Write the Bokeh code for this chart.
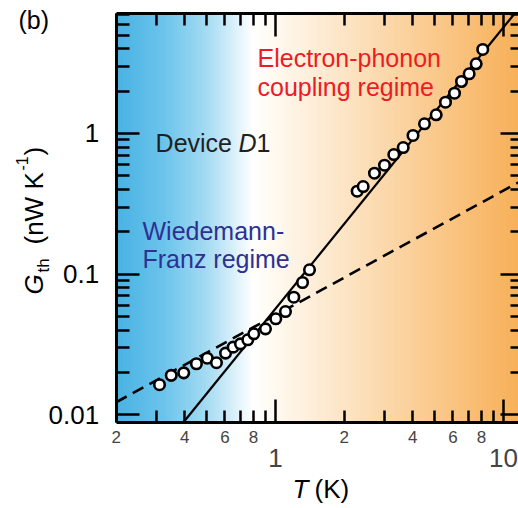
import numpy as np
from bokeh.plotting import figure
from bokeh.models import LogAxis, FixedTicker, Label, ColumnDataSource, Range1d
from bokeh.embed import file_html
from bokeh.resources import INLINE

# ---------------- data ----------------
T_meas = [0.310, 0.349, 0.396, 0.450, 0.502, 0.551, 0.604, 0.652, 0.702, 0.756,
          0.803, 0.904, 1.003, 1.106, 1.203, 1.314, 1.410, 2.282, 2.424, 2.718,
          3.007, 3.303, 3.632, 4.010, 4.503, 5.069, 5.567, 6.097, 6.544, 7.07,
          7.59, 8.11]
G_meas = [0.0164, 0.0191, 0.0199, 0.0231, 0.0253, 0.0235, 0.0275, 0.0303, 0.0320, 0.0342,
          0.0377, 0.0409, 0.0482, 0.0543, 0.0686, 0.0873, 0.1075, 0.389, 0.420, 0.522,
          0.595, 0.709, 0.795, 0.968, 1.172, 1.358, 1.669, 1.934, 2.342, 2.657,
          3.129, 3.954]

# electron-phonon fit (solid) and Wiedemann-Franz (dashed) line end points
ep_T = [0.394, 11.20]
ep_G = [0.00883, 7.128]
wf_T = [0.2, 12.0]
wf_G = [0.0123, 0.462]

x_small_ticks = [0.2, 0.4, 0.6, 0.8, 2, 4, 6, 8]
x_small_labels = ["2", "4", "6", "8", "2", "4", "6", "8"]
x_minor_ticks = [0.3, 0.5, 0.7, 0.9, 3, 5, 7, 9]
x_major_ticks = [1, 10]
x_major_labels = ["1", "10"]
y_major_ticks = [0.01, 0.1, 1]
y_major_labels = ["0.01", "0.1", "1"]
y_minor_ticks = [0.02, 0.03, 0.04, 0.05, 0.06, 0.07, 0.08, 0.09,
                 0.2, 0.3, 0.4, 0.5, 0.6, 0.7, 0.8, 0.9, 2, 3, 4, 5, 6, 7]

# plotted box (data units) and the whole canvas (data units)
BX0, BX1 = 0.2, 11.636
BY0, BY1 = 0.00883, 7.128
CX0, CX1 = 0.06222, 11.636
CY0, CY1 = 0.002162, 8.815

W, H = 518, 508
FONT = "Liberation Sans"

p = figure(width=W, height=H, x_axis_type="log", y_axis_type="log",
           x_axis_location=None, y_axis_location=None,
           x_range=Range1d(CX0, CX1), y_range=Range1d(CY0, CY1),
           toolbar_location=None, output_backend="svg",
           min_border_left=0, min_border_right=0, min_border_top=0, min_border_bottom=0)
p.outline_line_color = None
p.background_fill_color = "white"
p.border_fill_color = "white"
for g in p.grid:
    g.visible = False

# ---------------- background gradient ----------------
stops_f = [0.0, 0.12, 0.23, 0.34, 0.38, 1.0]
stops_c = [(72, 178, 227), (108, 196, 235), (168, 220, 243), (255, 255, 255),
           (255, 251, 244), (247, 176, 88)]
N = 300
lx0, lx1 = np.log10(BX0), np.log10(BX1)
idx = np.arange(N)
fc = (idx + 0.5) / N
chan = [np.interp(fc, stops_f, [c[k] for c in stops_c]) for k in range(3)]
cols = ["#%02x%02x%02x" % (int(round(r)), int(round(g)), int(round(b)))
        for r, g, b in zip(*chan)]
bg = ColumnDataSource(dict(
    left=10 ** (lx0 + (lx1 - lx0) * idx / N),
    right=10 ** (lx0 + (lx1 - lx0) * np.minimum(idx + 1.6, N) / N),
    bottom=[BY0] * N, top=[BY1] * N, color=cols))
p.quad(left="left", right="right", bottom="bottom", top="top", fill_color="color",
       line_color=None, source=bg)

# ---------------- lines and points ----------------
p.line(wf_T, wf_G, line_color="black", line_width=2.6, line_dash="12 7")
p.line(ep_T, ep_G, line_color="black", line_width=2.2)
p.scatter(T_meas, G_meas, size=10.5, fill_color="white", line_color="black", line_width=2.6)

# ---------------- axes (all pinned to the box edges) ----------------
def style(ax, major_in, minor_in, lw=2.5):
    ax.major_tick_in = major_in
    ax.major_tick_out = 0
    ax.minor_tick_in = minor_in
    ax.minor_tick_out = 0
    ax.major_tick_line_width = lw
    ax.minor_tick_line_width = lw
    ax.major_tick_line_color = "black"
    ax.minor_tick_line_color = "black"
    ax.axis_line_width = 3
    ax.axis_line_color = "black"

def blank(ax, ticks):
    ax.major_label_overrides = {t: "" for t in ticks}
    ax.major_label_text_font_size = "0px"
    ax.major_label_standoff = 0

# left
ay = LogAxis(ticker=FixedTicker(ticks=y_major_ticks, minor_ticks=y_minor_ticks),
             fixed_location=BX0, bounds=(BY0, BY1))
style(ay, 23, 13)
ay.major_label_overrides = dict(zip(y_major_ticks, y_major_labels))
ay.major_label_text_font = FONT
ay.major_label_text_font_size = "26px"
ay.major_label_text_color = "black"
ay.major_label_standoff = 17
p.add_layout(ay, "left")

# right (its line is beyond the picture edge)
ar = LogAxis(ticker=FixedTicker(ticks=y_major_ticks, minor_ticks=y_minor_ticks),
             fixed_location=BX1, bounds=(BY0, BY1))
style(ar, 18, 8)
ar.axis_line_color = None
blank(ar, y_major_ticks)
p.add_layout(ar, "right")

# top
at = LogAxis(ticker=FixedTicker(ticks=x_major_ticks, minor_ticks=x_small_ticks + x_minor_ticks),
             fixed_location=BY1, bounds=(BX0, BX1))
style(at, 23, 12)
blank(at, x_major_ticks)
p.add_layout(at, "above")

# bottom: short ticks + small labels
ab = LogAxis(ticker=FixedTicker(ticks=x_small_ticks, minor_ticks=x_minor_ticks),
             fixed_location=BY0, bounds=(BX0, BX1))
style(ab, 12, 12)
ab.major_label_overrides = dict(zip(x_small_ticks, x_small_labels))
ab.major_label_text_font = FONT
ab.major_label_text_font_size = "17px"
ab.major_label_standoff = 8
p.add_layout(ab, "below")

# bottom: long ticks at 1 and 10 + big labels further down
af = LogAxis(ticker=FixedTicker(ticks=x_major_ticks, minor_ticks=[]),
             fixed_location=BY0, bounds=(BX0, BX1))
style(af, 23, 0)
af.axis_line_color = None
af.major_label_overrides = dict(zip(x_major_ticks, x_major_labels))
af.major_label_text_font = FONT
af.major_label_text_font_size = "26px"
af.major_label_standoff = 26
p.add_layout(af, "below")

# ---------------- texts ----------------
SHIFT = 0.36  # baseline correction, in em

def slabel(text, px, py, size, style="normal", rotated=False, color="black"):
    s = SHIFT * size
    if rotated:
        x, y, ang = px - s, H - py, np.pi / 2
    else:
        x, y, ang = px, H - py + s, 0
    p.add_layout(Label(x=x, y=y, x_units="screen", y_units="screen", text=text,
                       text_font=FONT, text_font_size="%dpx" % size, text_font_style=style,
                       text_color=color, text_baseline="alphabetic", text_align="left",
                       angle=ang))

def dlabel(text, x, y, color, style="normal", xoff=0, size=25):
    yfac = 10 ** (SHIFT * size / 140.7)
    p.add_layout(Label(x=x, y=y * yfac, text=text, x_offset=xoff, text_font=FONT,
                       text_font_size="%dpx" % size, text_font_style=style, text_color=color,
                       text_baseline="alphabetic", text_align="left"))

RED = "#ec1c24"
BLUE = "#2e3192"
DARK = "#231f20"
dlabel("Electron-phonon", 0.834, 2.945, RED)
dlabel("coupling regime", 0.834, 1.833, RED)
dlabel("Device", 0.298, 0.733, DARK)
dlabel("D", 0.298, 0.733, DARK, style="italic", xoff=83)
dlabel("1", 0.298, 0.733, DARK, xoff=101)
dlabel("Wiedemann-", 0.261, 0.1736, BLUE)
dlabel("Franz regime", 0.261, 0.1098, BLUE)

slabel("(b)", 18, 28, 25)

# x-axis title
slabel("T", 292, 498, 26, style="italic")
slabel("(K)", 314, 498, 26)

# y-axis title (rotated)
slabel("G", 43, 294, 26, style="italic", rotated=True)
slabel("th", 49, 272, 17, rotated=True)
slabel("(nW K", 43, 244, 26, rotated=True)
slabel("-1", 27, 170, 16, rotated=True)
slabel(")", 43, 155, 26, rotated=True)

open("out.html", "w").write(file_html(p, INLINE))
